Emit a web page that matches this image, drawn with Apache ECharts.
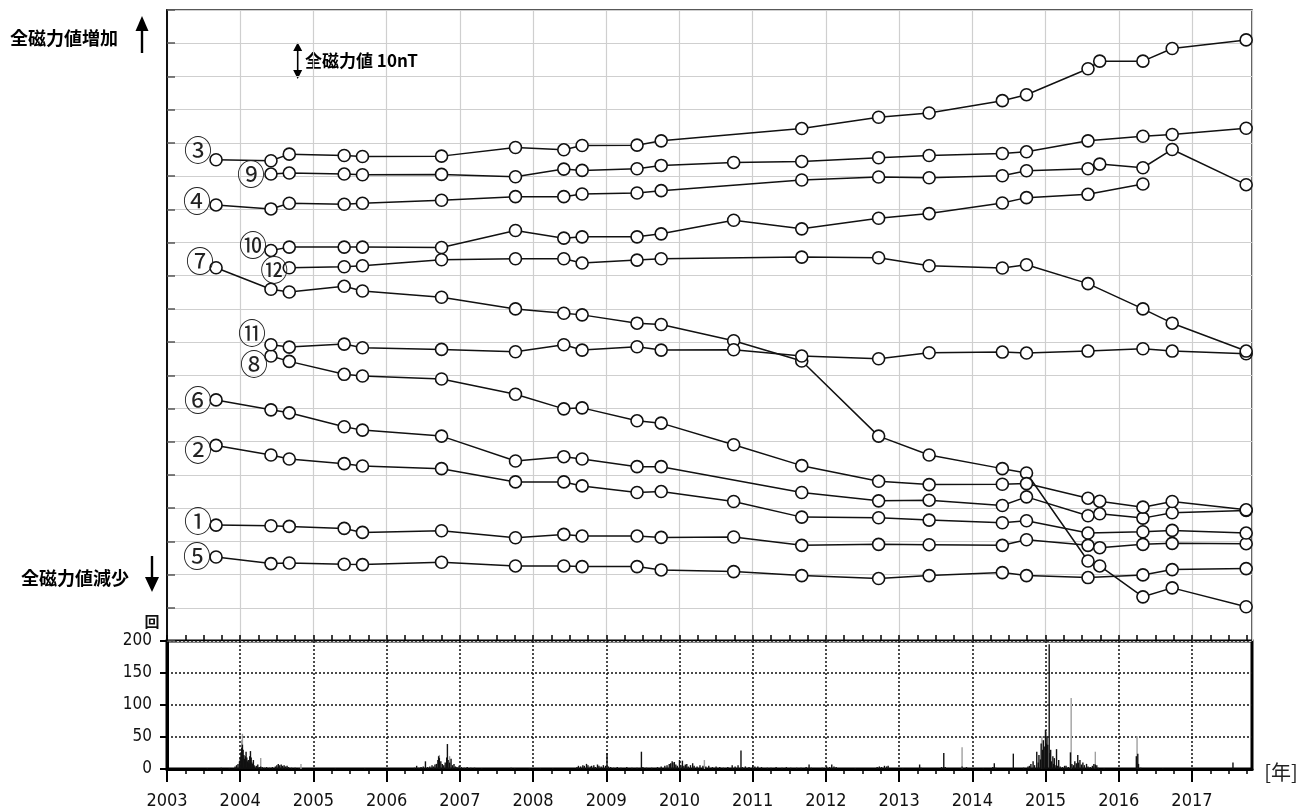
<!DOCTYPE html>
<html><head><meta charset="utf-8">
<script src="https://cdn.jsdelivr.net/npm/echarts@6/dist/echarts.min.js"></script>
<style>html,body{margin:0;padding:0;background:#fff}#c{width:1316px;height:812px}</style>
</head><body><div id="c"></div>
<script>
// ---- survey dates (decimal year) ----
const surveyDates = [2003.67,2004.42,2004.67,2005.42,2005.67,2006.75,2007.76,2008.42,2008.67,2009.42,2009.75,2010.74,2011.67,2012.72,2013.41,2014.41,2014.74,2015.58,2015.74,2016.33,2016.73,2017.74];
// ---- total magnetic field relative values (nT, arbitrary offsets) ----
const s1  = [34.9,34.7,34.5,33.9,32.7,33.2,31.1,32.1,31.6,31.6,31.2,31.3,28.8,29.1,29.0,28.8,30.5,28.8,28.1,29.1,29.4,29.3];
const s2  = [58.9,56.0,54.8,53.4,52.7,51.9,47.9,47.9,46.7,44.7,45.0,42.0,37.3,37.1,36.4,35.6,36.2,32.5,null,32.9,33.3,32.5];
const s3  = [144.9,144.6,146.6,146.2,145.9,146.0,148.6,147.9,149.2,149.3,150.6,null,154.3,157.7,159.0,162.7,164.5,172.3,174.6,174.6,178.4,181.0];
const s4  = [131.3,130.1,131.8,131.5,131.8,132.7,133.8,133.8,134.6,134.9,135.6,null,138.8,139.7,139.5,140.1,141.6,142.2,143.6,142.5,148.0,137.4];
const s5  = [25.3,23.3,23.5,23.1,23.0,23.7,22.6,22.6,22.4,22.4,21.4,20.9,19.7,18.8,19.7,20.6,19.7,19.1,null,19.9,21.5,21.8];
const s6  = [72.6,69.6,68.7,64.5,63.5,61.7,54.2,55.5,54.8,52.5,52.5,null,44.7,42.2,42.4,40.8,43.4,37.7,38.3,37.0,38.6,39.3];
const s7  = [112.4,105.9,105.1,106.8,105.4,103.5,100.0,98.7,98.2,95.7,95.3,90.4,84.3,61.7,56.0,51.9,50.6,24.1,22.6,13.3,16.0,10.3];
const s8  = [null,85.8,84.2,80.3,79.8,78.9,74.3,69.9,70.2,66.3,65.6,59.1,52.8,48.1,47.1,47.2,47.4,43.0,42.1,40.3,42.0,39.5];
const s9  = [null,140.6,140.9,140.6,140.4,140.5,139.8,142.1,141.7,142.2,143.2,144.1,144.4,145.5,146.2,146.8,147.3,150.6,null,152.0,152.5,154.4];
const s10 = [null,117.6,118.6,118.6,118.6,118.5,123.6,121.3,121.7,121.7,122.6,126.7,124.1,127.3,128.7,131.9,133.5,134.5,null,137.6,null,null];
const s11 = [null,89.2,88.5,89.4,88.3,87.8,87.1,89.2,87.6,88.6,87.6,87.7,85.8,85.0,86.8,87.0,86.7,87.3,null,88.0,87.3,86.5];
const s12 = [null,null,112.4,112.7,113.0,114.8,115.1,115.1,113.8,114.7,115.1,null,115.6,115.4,113.0,112.3,113.3,107.6,null,100.0,95.7,87.3];
const seriesNames = ['①','②','③','④','⑤','⑥','⑦','⑧','⑨','⑩','⑪','⑫'];
const seriesValues = [s1,s2,s3,s4,s5,s6,s7,s8,s9,s10,s11,s12];

// ---- daily earthquake counts [decimal year, count] ----
const quakeDark = [
[2003.55,1],[2003.74,2],[2003.85,1],[2003.93,4],[2003.95,6],[2003.97,8],[2003.99,12],
[2004.00,18],[2004.01,26],[2004.02,33],[2004.03,38],[2004.04,30],[2004.05,22],[2004.06,16],[2004.07,20],[2004.08,27],[2004.09,18],[2004.10,12],[2004.11,14],[2004.12,9],[2004.13,20],[2004.14,28],[2004.15,18],[2004.16,10],[2004.17,8],[2004.18,14],[2004.19,6],[2004.20,4],[2004.22,5],[2004.24,7],[2004.26,3],[2004.28,4],[2004.30,3],[2004.33,2],[2004.36,3],[2004.40,2],[2004.44,3],[2004.48,4],[2004.50,6],[2004.52,8],[2004.54,6],[2004.56,7],[2004.58,5],[2004.60,6],[2004.62,4],[2004.64,5],[2004.66,3],[2004.70,2],[2004.75,2],[2004.80,1],
[2005.30,1],[2005.70,1],
[2006.38,2],[2006.41,5],[2006.44,2],[2006.47,3],[2006.50,4],[2006.53,12],[2006.56,3],[2006.59,4],[2006.62,6],[2006.64,4],[2006.66,7],[2006.68,8],[2006.70,14],[2006.71,20],[2006.72,17],[2006.74,12],[2006.76,8],[2006.78,6],[2006.80,10],[2006.82,18],[2006.83,39],[2006.84,14],[2006.86,10],[2006.88,16],[2006.90,6],[2006.92,8],[2006.94,4],[2006.96,3],[2006.99,5],[2007.02,3],[2007.06,2],[2007.10,3],[2007.15,2],[2007.20,2],[2007.30,1],[2007.70,2],[2007.75,1],[2007.95,1],[2008.10,1],[2008.27,1],
[2008.60,3],[2008.62,5],[2008.65,4],[2008.68,6],[2008.70,5],[2008.73,8],[2008.75,6],[2008.78,4],[2008.80,5],[2008.83,6],[2008.85,3],[2008.88,7],[2008.90,5],[2008.93,4],[2008.96,6],[2008.99,5],[2009.01,25],[2009.03,4],[2009.06,3],[2009.10,2],[2009.15,3],[2009.20,2],[2009.28,3],[2009.35,2],[2009.42,2],[2009.48,27],[2009.50,3],[2009.55,2],[2009.62,2],[2009.70,3],[2009.75,4],[2009.80,5],[2009.83,6],[2009.86,8],[2009.88,9],[2009.90,12],[2009.91,10],[2009.93,11],[2009.95,7],[2009.97,5],
[2010.00,14],[2010.02,6],[2010.04,13],[2010.06,5],[2010.08,7],[2010.10,8],[2010.12,4],[2010.15,6],[2010.18,9],[2010.20,5],[2010.24,4],[2010.28,6],[2010.32,5],[2010.36,4],[2010.40,5],[2010.45,3],[2010.50,4],[2010.55,3],[2010.60,2],[2010.66,3],[2010.72,6],[2010.76,4],[2010.80,6],[2010.84,29],[2010.86,3],[2010.90,4],[2010.95,3],
[2011.00,6],[2011.03,4],[2011.07,4],[2011.12,3],[2011.20,2],[2011.25,2],[2011.32,3],[2011.40,2],[2011.46,3],[2011.52,2],[2011.60,2],[2011.66,2],[2011.73,3],[2011.77,7],[2011.80,2],[2011.95,2],
[2012.01,4],[2012.05,3],[2012.08,7],[2012.11,4],[2012.14,3],[2012.40,1],[2012.70,3],[2012.73,4],[2012.76,3],[2012.80,5],[2012.83,4],[2012.85,5],
[2013.05,1],[2013.28,7],[2013.30,2],[2013.58,3],[2013.61,25],[2013.63,3],[2013.86,4],[2013.92,3],
[2014.15,1],[2014.28,3],[2014.30,9],[2014.32,2],[2014.56,24],[2014.70,2],[2014.76,4],[2014.78,5],[2014.80,8],[2014.83,12],[2014.85,6],[2014.88,27],[2014.90,10],[2014.91,22],[2014.93,15],[2014.94,40],[2014.96,30],[2014.97,45],[2014.99,35],
[2015.00,61],[2015.01,40],[2015.02,51],[2015.03,38],[2015.05,195],[2015.06,25],[2015.07,30],[2015.08,12],[2015.10,20],[2015.11,8],[2015.12,17],[2015.13,6],[2015.15,31],[2015.16,5],[2015.18,14],[2015.20,4],[2015.23,3],[2015.26,5],[2015.28,5],[2015.31,3],[2015.34,26],[2015.36,8],[2015.38,6],[2015.40,12],[2015.42,9],[2015.44,22],[2015.45,10],[2015.47,14],[2015.49,7],[2015.51,10],[2015.53,6],[2015.56,8],[2015.58,4],[2015.61,3],[2015.64,5],[2015.66,8],[2015.68,7],[2015.70,6],[2015.72,2],[2015.80,1],
[2016.24,20],[2016.26,24],[2016.27,8],[2016.30,2],[2016.60,1],[2017.56,10]
];
const quakeLight = [
[2004.02,45],[2004.03,55],[2004.28,17],[2004.83,8],[2006.72,22],[2006.86,20],[2010.34,14],[2013.86,34],[2014.95,51],[2015.00,62],[2015.01,58],[2015.35,111],[2015.68,27],[2016.25,51]
];

// ---- axis ticks ----
const yearTicks = []; for (let y = 2003; y <= 2017; y++) yearTicks.push(y);
const quarterTicks = []; for (let k = 0; k <= 59; k++) quarterTicks.push(2003 + k * 0.25);
const X_MIN = 2003, X_MAX = 2017.82;

// label offsets for circled numbers (style only)
const labelOffsets = {
  '①':[-18,-4],'②':[-18,5],'③':[-18,-9],'④':[-19,-4],'⑤':[-19,-1],'⑥':[-18,0],
  '⑦':[-16,-6],'⑧':[-17,8],'⑨':[-20,0],'⑩':[-18,-5],'⑪':[-19,-11],'⑫':[-15,3]
};

const numFont = "'Liberation Sans Narrow','DejaVu Sans Condensed','Roboto',sans-serif";
const cjk = "'Noto Sans CJK JP','Noto Sans CJK SC',sans-serif";

const lineSeries = seriesNames.map((name, i) => {
  const pts = [];
  surveyDates.forEach((d, j) => { const v = seriesValues[i][j]; if (v !== null) pts.push([d, v]); });
  const data = pts.map((p, k) => k === 0 ? {
    value: p,
    label: { show: true, formatter: name, position: 'inside', offset: labelOffsets[name],
             fontSize: 28, fontFamily: cjk, color: '#222' }
  } : p);
  return {
    type: 'line', name, xAxisIndex: 0, yAxisIndex: 0, data,
    symbol: 'circle', symbolSize: 12, showAllSymbol: true,
    itemStyle: { color: '#fff', borderColor: '#111', borderWidth: 1.6 },
    lineStyle: { color: '#111', width: 1.5 },
    emphasis: { disabled: true }, silent: true, z: 3
  };
});

const chart = echarts.init(document.getElementById('c'), null, { renderer: 'canvas' });
chart.setOption({
  animation: false,
  backgroundColor: '#fff',
  grid: [
    { left: 167, top: 10, width: 1085, height: 631, show: true, borderColor: '#222', borderWidth: 1.5, backgroundColor: 'transparent' },
    { left: 167, top: 641, width: 1085, height: 128, show: true, borderColor: '#000', borderWidth: 3, backgroundColor: 'transparent' }
  ],
  xAxis: [
    { gridIndex: 0, type: 'value', min: X_MIN, max: X_MAX, interval: 1,
      axisLine: { show: false }, axisTick: { show: false }, axisLabel: { show: false },
      splitLine: { show: true, lineStyle: { color: '#cfcfcf', width: 1.2 } } },
    { gridIndex: 1, type: 'value', min: X_MIN, max: X_MAX, interval: 1, position: 'bottom',
      axisLine: { show: true, onZero: false, lineStyle: { color: '#000', width: 3 } },
      axisTick: { show: true, length: 13, customValues: yearTicks, lineStyle: { color: '#000', width: 2 } },
      axisLabel: { show: true, customValues: yearTicks, formatter: v => (Math.abs(v - Math.round(v)) < 1e-6 ? String(Math.round(v)) : ''),
                   fontSize: 18, fontFamily: numFont, color: '#111', margin: 23 },
      splitLine: { show: true, lineStyle: { color: '#111', width: 1.5, type: [2, 2] } } },
    { gridIndex: 1, type: 'value', min: X_MIN, max: X_MAX, interval: 0.25, position: 'bottom',
      axisLine: { show: false, onZero: false }, axisLabel: { show: false }, splitLine: { show: false },
      axisTick: { show: true, length: 5, customValues: quarterTicks, lineStyle: { color: '#000', width: 1.5 } } },
    { gridIndex: 1, type: 'value', min: X_MIN, max: X_MAX, interval: 0.25, position: 'top',
      axisLine: { show: false, onZero: false }, axisLabel: { show: false }, splitLine: { show: false },
      axisTick: { show: true, length: 6, customValues: quarterTicks, lineStyle: { color: '#000', width: 1.5 } } }
  ],
  yAxis: [
    { gridIndex: 0, type: 'value', min: 0, max: 190, interval: 10,
      axisLine: { show: true, lineStyle: { color: '#111', width: 2 } },
      axisTick: { show: true, inside: true, length: 8, lineStyle: { color: '#555', width: 1.5 } },
      axisLabel: { show: false },
      splitLine: { show: true, lineStyle: { color: '#cfcfcf', width: 1.2 } } },
    { gridIndex: 1, type: 'value', min: 0, max: 200, interval: 50,
      axisLine: { show: true, lineStyle: { color: '#000', width: 3 } },
      axisTick: { show: true, length: 7, lineStyle: { color: '#000', width: 2 } },
      axisLabel: { fontSize: 17, fontFamily: numFont, color: '#111', margin: 15, padding: [5, 0, 0, 0] },
      splitLine: { show: true, lineStyle: { color: '#111', width: 1.5, type: [2, 2] } } }
  ],
  series: [
    ...lineSeries,
    { type: 'bar', name: 'light', xAxisIndex: 1, yAxisIndex: 1, data: quakeLight, barWidth: 1.4, barGap: '-100%',
      itemStyle: { color: '#a0a0a0' }, silent: true, z: 2 },
    { type: 'bar', name: 'dark', xAxisIndex: 1, yAxisIndex: 1, data: quakeDark, barWidth: 1.4, barGap: '-100%',
      itemStyle: { color: '#111' }, silent: true, z: 2 }
  ],
  graphic: [
    { type: 'text', style: { text: '全磁力値増加', x: 10, y: 38, font: "bold 18px 'Noto Sans CJK JP'", fill: '#000', align: 'left', verticalAlign: 'middle' } },
    { type: 'line', shape: { x1: 142, y1: 28, x2: 142, y2: 53 }, style: { stroke: '#000', lineWidth: 2.4 } },
    { type: 'polygon', shape: { points: [[142, 16], [135.5, 31], [148.5, 31]] }, style: { fill: '#000' } },

    { type: 'text', style: { text: '全磁力値減少', x: 21, y: 578, font: "bold 18px 'Noto Sans CJK JP'", fill: '#000', align: 'left', verticalAlign: 'middle' } },
    { type: 'line', shape: { x1: 152, y1: 556, x2: 152, y2: 580 }, style: { stroke: '#000', lineWidth: 2.4 } },
    { type: 'polygon', shape: { points: [[152, 592], [145, 577], [159, 577]] }, style: { fill: '#000' } },

    { type: 'line', shape: { x1: 297.7, y1: 48, x2: 297.7, y2: 74 }, style: { stroke: '#000', lineWidth: 1.6 } },
    { type: 'polygon', shape: { points: [[297.7, 42.5], [293.2, 51], [302.2, 51]] }, style: { fill: '#000' } },
    { type: 'polygon', shape: { points: [[297.7, 79], [293.2, 70], [302.2, 70]] }, style: { fill: '#000' } },
    { type: 'text', style: { text: '全磁力値 10nT', x: 305, y: 61, font: "bold 17px 'Noto Sans CJK JP'", fill: '#000', align: 'left', verticalAlign: 'middle' } },

    { type: 'text', style: { text: '回', x: 152, y: 621, font: "bold 15px 'Noto Sans CJK JP'", fill: '#111', align: 'center', verticalAlign: 'middle' } },
    { type: 'text', style: { text: '[年]', x: 1281, y: 772, font: "20px 'Noto Sans CJK JP'", fill: '#222', align: 'center', verticalAlign: 'middle' } }
  ]
});
</script>
</body></html>
